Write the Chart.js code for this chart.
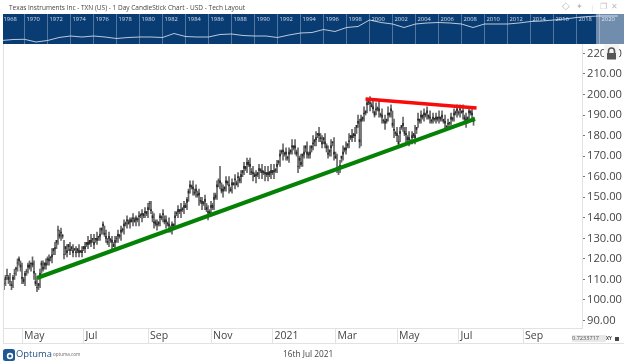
<!DOCTYPE html>
<html><head><meta charset="utf-8">
<script src="https://cdn.jsdelivr.net/npm/chart.js@4"></script>
<style>
html,body{margin:0;padding:0;background:#fff;width:624px;height:363px;overflow:hidden;font-family:"Open Sans",sans-serif;}
canvas{position:absolute;}
.t{position:absolute;white-space:nowrap;}
</style></head><body>
<canvas id="main" width="624" height="363" style="left:0;top:0"></canvas>
<canvas id="nav" width="621" height="30" style="top:14px;left:3px"></canvas>
<div class="t" style="left:9px;top:3px;font-size:6.5px;line-height:9px;color:#444">Texas Instruments Inc - TXN (US) - 1 Day CandleStick Chart - USD - Tech Layout</div>
<div class="t" style="left:562px;top:0;font-size:10px;line-height:12px;color:#bbb;font-family:'DejaVu Sans'">◇</div>
<div class="t" style="left:576px;top:1px;font-size:8px;line-height:11px;color:#bbb;font-family:'DejaVu Sans'">✦</div>
<div class="t" style="left:590px;top:1px;font-size:8px;line-height:11px;color:#ddd">|</div>
<div class="t" style="left:600px;top:1px;font-size:8px;line-height:11px;color:#bbb;font-family:'DejaVu Sans'">❐</div>
<div class="t" style="left:611px;top:1px;font-size:8px;line-height:11px;color:#bbb;font-family:'DejaVu Sans'">✕</div>
<div style="position:absolute;left:604px;top:44px;width:15px;height:15px;background:#f4f4f4">
<svg width="15" height="15" viewBox="0 0 15 15"><path d="M4.5 7V5a3 3 0 0 1 6 0v2" fill="none" stroke="#555" stroke-width="1.6"/><rect x="3" y="7" width="9" height="6.5" fill="#555"/></svg></div>
<div style="position:absolute;left:3px;top:44px;width:1px;height:300px;background:#e2e2e2"></div>
<div style="position:absolute;left:3px;top:343px;width:621px;height:1px;background:#e2e2e2"></div>
<div class="t" style="left:572px;top:335px;width:34px;height:7px;overflow:hidden;background:#e8e8e8;font-size:5.6px;line-height:7px;color:#555">0.7233717</div>
<div class="t" style="left:606px;top:335px;font-size:4.5px;line-height:7px;color:#444;font-weight:700">XY</div>
<div style="position:absolute;left:615px;top:337px;width:4px;height:4px;background:#444"></div>
<svg style="position:absolute;left:3px;top:349px" width="12" height="12" viewBox="0 0 12 12"><rect width="12" height="12" rx="2.5" fill="#1f5a94"/><circle cx="7" cy="7" r="3.2" fill="#fff"/><circle cx="7" cy="7" r="1.6" fill="#1f5a94"/></svg>
<div class="t" style="left:16px;top:347px;font-size:9.4px;line-height:14px;color:#1f4f80">Optuma</div>
<div class="t" style="left:53px;top:351px;font-size:4.6px;line-height:7px;color:#666">optuma.com</div>
<div class="t" style="left:283px;top:347px;font-size:8.3px;line-height:13px;color:#444">16th Jul 2021</div>
<script>
const highs=[110,112,115,112,113,109,112,115,116,120,
121,119,118,111,114,115,118,119,118,121,
119,113,111,108,115,119,119,118,120,121,
122,121,125,125,128,129,136,134,135,132,
129,126,127,127,128,125,127,125,126,125,
127,124,126,126,128,128,131,129,132,130,
132,130,133,131,135,135,138,136,134,130,
133,130,131,128,131,131,134,132,136,135,
139,138,141,139,140,140,142,140,141,140,
143,142,144,142,145,143,147,148,148,143,
142,139,139,138,142,141,144,141,141,138,
140,136,138,137,143,143,146,144,147,145,
148,147,150,154,158,156,158,154,156,153,
154,150,150,148,151,147,146,144,148,147,
152,152,158,159,165,157,156,155,160,158,
160,155,159,157,161,158,162,160,163,163,
167,165,169,168,169,164,165,162,163,162,
166,164,166,163,165,162,165,162,166,163,
166,164,168,168,173,173,176,172,174,170,
174,173,178,175,178,173,174,170,171,171,
175,175,177,172,175,175,180,178,182,181,
184,181,180,179,181,176,175,173,178,177,
179,172,171,165,168,170,175,174,177,176,
181,180,183,181,184,185,190,188,190,189,
194,192,198,197,199,196,198,192,196,194,
197,191,193,188,190,188,194,191,195,192,
188,182,184,180,184,185,189,184,184,180,
182,178,182,181,185,184,191,188,192,190,
193,191,194,190,192,188,191,188,191,189,
192,189,192,187,190,185,188,186,191,189,
193,192,195,192,195,192,195,190,191,189,
194,192,194,189];
const lows=[105,107,110,108,107,105,106,110,112,114,
117,114,108,108,107,112,113,115,114,116,
110,107,104,105,106,113,114,115,115,117,
117,119,118,122,122,125,127,130,129,130,
120,122,121,124,122,124,121,124,121,123,
121,123,121,124,123,126,125,127,126,128,
125,128,127,129,129,132,132,131,128,127,
126,128,125,126,125,128,128,130,129,133,
132,136,135,137,135,138,136,138,136,138,
136,140,138,140,140,141,140,144,142,138,
135,136,134,136,136,139,138,137,135,136,
133,133,132,135,135,141,140,142,140,143,
142,145,144,148,152,154,151,151,150,150,
146,147,144,146,144,143,139,141,141,144,
144,149,149,155,154,152,150,153,153,156,
152,153,152,156,154,156,155,157,157,160,
161,163,162,165,161,161,158,160,157,160,
159,162,159,161,158,160,158,160,159,161,
159,162,162,166,165,171,168,170,168,168,
167,171,171,173,171,170,162,164,165,165,
169,172,169,169,169,172,173,175,175,179,
177,177,174,176,174,172,169,170,170,175,
168,169,162,161,162,167,168,172,171,174,
174,178,177,179,177,181,184,174,175,187,
187,190,191,195,192,194,191,189,190,192,
189,189,186,186,183,186,187,189,189,184,
179,180,177,175,177,183,182,180,177,177,
175,176,176,179,176,181,184,186,186,188,
187,189,188,188,186,186,186,187,186,187,
186,187,187,186,183,183,183,185,185,187,
187,190,189,190,189,191,188,186,184,186,
188,190,187,185];
const opens=[108,110,112,111,109,107.5,110,113,115.5,118,
119,117,110.5,110,112,114,116,117,117.5,118,
113,109,106,107,113,117,116,117,118,119.5,
120,120.5,122,124,125.5,128,134,132,132.5,131.5,
122,125,124,126,124.5,125,124,124.5,123.5,124,
124,123.5,124,125,126,127,128,127.5,129,129.5,
128,129.5,130,130.5,132,134,136,132.5,130,128.5,
130,129.5,128,127,128,130,131,131.5,133,134.5,
136,137.5,138.5,138,138,139,139.5,139,139,139.5,
140.5,141.5,141.5,142,142.5,143,144,147,143.5,141,
137.5,138,136.5,138,140,140.5,141.5,139,138,137.5,
136,135,136,137,140,142.5,143,144,143.5,144.5,
145,146,147.5,153,155,155.5,154,152.5,153,151.5,
151,148.5,147,147.5,148,145,142.5,143,145,146,
149,151,155,158,157,154,153,155,157,157.5,
155.5,154,156,157,158.5,157,159.5,159,160,163,
164,165,166,167,165,162.5,161.5,161,160.5,162,
163,163.5,162,162.5,161.5,162,161,162.5,162,163,
162.5,163.5,165,167.5,170,172.5,172,171.5,171,169.5,
171,173,174.5,175,174,172,165,168,167,170,
172,174,172,170.5,172,174,176.5,177,179,180.5,
181,178.5,177,178,177,174,171.5,172,175,176.5,
172,169,164,163.5,165.5,169,172,173,174,175,
177.5,179,180,180,180.5,184,187,178,187,189,
190.5,192,195,196.5,195.5,195,193,191.5,192.5,193.5,
192,190.5,189,187.5,186,188,190,191,192,186,
182.5,181.5,180,177,181,185,185,182,180.5,179,
178,177.5,179,181,179,184,187.5,188,189,190,
190,190.5,191,190,188.5,187.5,188,188.5,188,189,
188.5,189,189,188,186,184.5,185.5,186.5,188,188.5,
190,191.5,192,191.5,192.5,192,191.5,189,187,189,
191,192,190,188];
const closes=[108,111,112,110,109,107,111,113,115,118,
120,116,111,109,113,114,117,116,118,117,
114,108,106,108,112,118,115,118,117,120,
119,121,121,125,125,129,134,131,133,131,
122,126,123,127,124,126,123,125,123,125,
123,124,123,126,125,128,127,129,128,130,
127,130,129,131,131,135,137,132,131,128,
131,129,129,126,129,130,132,131,134,134,
137,137,139,137,139,138,140,138,140,139,
141,141,142,141,143,142,145,147,144,140,
138,137,137,137,141,140,142,138,139,137,
137,134,137,136,141,142,144,143,144,144,
146,145,149,152,156,155,155,152,154,151,
152,148,148,147,149,144,143,142,146,145,
150,150,156,158,158,153,154,154,158,157,
156,153,157,156,159,156,160,158,161,162,
165,164,167,166,166,162,162,160,161,161,
164,163,163,162,162,161,162,161,163,162,
163,163,166,167,171,172,173,171,172,169,
172,172,175,174,175,171,165,169,166,171,
171,175,171,171,171,175,176,178,178,181,
180,179,176,179,176,175,171,173,174,177,
171,170,163,164,165,170,171,174,173,176,
177,180,179,181,180,185,186,177,188,188,
191,191,196,196,196,194,194,190,193,193,
193,190,190,187,187,187,191,190,193,185,
183,181,181,176,182,184,186,181,181,178,
179,177,180,180,180,183,188,187,190,189,
191,190,192,189,189,187,189,188,189,188,
189,188,190,187,187,184,186,186,189,188,
191,191,193,191,193,191,192,188,188,188,
192,191,191,187];
const yTicks=[90,100,110,120,130,140,150,160,170,180,190,200,210,220];
const xTickBars=[12,53,96,138,179,221,262,303,346];
const xTickLabels=["May","Jul","Sep","Nov","2021","Mar","May","Jul","Sep"];
const greenBars=[22,314];const greenVals=[110.7,188.1];
const redBars=[241,315];const redVals=[197.8,193.4];
const navYears=[1968,1969,1970,1971,1972,1973,1974,1975,1976,1977,1978,1979,1980,1981,1982,1983,1984,1985,1986,1987,1988,1989,1990,1991,1992,1993,1994,1995,1996,1997,1998,1999,2000,2001,2002,2003,2004,2005,2006,2007,2008,2009,2010,2011,2012,2013,2014,2015,2016,2017,2018,2019,2020,2021.6];
const navVals=[3.5,4.5,4.7,2,3.5,6.5,8,7,8,7,5.5,6.5,7,7,6.5,10.5,7.5,7,7,9.5,10,8.5,8,8,6.5,9,11,11.5,14.5,12.5,16.5,17.5,24,21.5,20,16.5,20,21,21.5,21,20,16.5,20,20,20,21,22.5,23,24,25,26.5,27.5,28,28];
const navLabels=[1968,1970,1972,1974,1976,1978,1980,1982,1984,1986,1988,1990,1992,1994,1996,1998,2000,2002,2004,2006,2008,2010,2012,2014,2016,2018,2020];

const wicks=lows.map((l,i)=>({x:i,y:[l,highs[i]]}));
const bodies=opens.map((o,i)=>({x:i,y:[o,closes[i]]}));
const pts=(a,b)=>a.map((x,i)=>({x,y:b[i]}));
new Chart(document.getElementById('main'),{
 type:'bar',
 data:{datasets:[
  {type:'bar',data:wicks,backgroundColor:'#666',barThickness:1,grouped:false,order:3},
  {type:'bar',data:bodies,backgroundColor:'#2a2a2a',barThickness:1,grouped:false,order:2},
  {type:'line',data:pts(greenBars,greenVals),borderColor:'#058205',borderWidth:4,pointRadius:0,order:1},
  {type:'line',data:pts(redBars,redVals),borderColor:'#fb0a0a',borderWidth:3.5,pointRadius:0,order:1}
 ]},
 options:{responsive:false,animation:false,
  layout:{padding:{left:3,top:44,right:0,bottom:20}},
  plugins:{legend:{display:false},tooltip:{enabled:false}},
  scales:{
   x:{type:'linear',min:-0.67,max:385.3,offset:false,
    afterFit:s=>{s.height=15},
    afterBuildTicks:s=>{s.ticks=xTickBars.map(v=>({value:v}))},
    border:{display:true,color:'#e2e2e2'},
    grid:{drawOnChartArea:false,drawTicks:true,tickLength:15,tickColor:'#e2e2e2',offset:false},
    ticks:{autoSkip:false,maxRotation:0,align:'start',labelOffset:2,padding:-13,color:'#444',font:{family:'Open Sans',size:10.5},
     callback:v=>xTickLabels[xTickBars.indexOf(v)]}},
   y:{type:'linear',position:'right',min:86.37,max:224.57,
    afterFit:s=>{s.width=42},
    afterBuildTicks:s=>{s.ticks=yTicks.map(v=>({value:v}))},
    border:{display:true,color:'#e2e2e2'},
    grid:{drawOnChartArea:false,tickLength:3,tickColor:'#777'},
    ticks:{padding:2,color:'#444',font:{family:'Open Sans',size:11.2},callback:v=>v.toFixed(2)}}
  }}
});
const shade={id:'shade',afterDraw(c){const x=c.scales.x,a=c.chartArea,p=x.getPixelForValue(2019.7);
 const g=c.ctx;g.save();g.fillStyle='rgba(255,255,255,0.42)';g.fillRect(p,0,a.right-p,c.height);g.restore();}};
new Chart(document.getElementById('nav'),{
 type:'line',
 data:{datasets:[{data:pts(navYears,navVals),clip:20,borderColor:'rgba(255,255,255,0.72)',borderWidth:1,pointRadius:0,tension:0}]},
 options:{responsive:false,animation:false,
  layout:{padding:0},
  plugins:{legend:{display:false},tooltip:{enabled:false},filler:false},
  scales:{
   x:{type:'linear',position:'top',min:1968.13,max:2022.13,
    afterFit:s=>{s.height=12},
    afterBuildTicks:s=>{s.ticks=navLabels.map(v=>({value:v}))},
    border:{display:false},
    grid:{color:'rgba(255,255,255,0.3)',tickColor:'rgba(255,255,255,0.3)',tickLength:12},
    ticks:{autoSkip:false,maxRotation:0,align:'start',labelOffset:2,padding:-9,color:'rgba(255,255,255,0.8)',font:{family:'Open Sans',size:5.8},callback:v=>String(v)}},
   y:{display:false,min:0,max:18}
  }},
 plugins:[{id:'bg',beforeDraw(c){const g=c.ctx;g.save();g.fillStyle='#0a3c74';g.fillRect(0,0,c.width,c.height);g.restore();}},shade]
});
</script>
</body></html>
